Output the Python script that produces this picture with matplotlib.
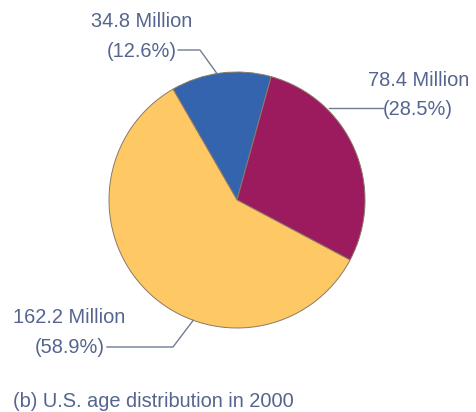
import numpy as np
import matplotlib
matplotlib.use("Agg")
import matplotlib.pyplot as plt

plt.rcParams['font.family'] = ['Liberation Sans', 'DejaVu Sans']

# age groups (under 18 / 18-64 / 65+ mixed as in the figure)
values = [34.8, 78.4, 162.2]
counts = ["34.8 Million", "78.4 Million", "162.2 Million"]
percents = ["(12.6%)", "(28.5%)", "(58.9%)"]
colors = ["#3464ad", "#9c1b5e", "#fec865"]
caption = "(b) U.S. age distribution in 2000"

W, H = 476, 412
text_col = "#55658f"
line_col = "#6f7c94"

fig = plt.figure(figsize=(W / 100, H / 100), dpi=100)
ax = fig.add_axes([0, 0, 1, 1])

cx, cy, r = 237, H - 200, 128
wedges, _ = ax.pie(values, colors=colors, startangle=120, counterclock=False,
                   center=(cx, cy), radius=r, frame=True,
                   wedgeprops=dict(edgecolor="#8a7a66", linewidth=0.7))
ax.set_xlim(0, W)
ax.set_ylim(0, H)
ax.axis('off')

fs = 14.4
# label layout: (count xy, percent xy, elbow point or None, angle where the leader hits the pie)
label_pos = [
    ((91, 27), (107, 57), (200, 50), 99),
    ((368, 86), (383, 115), None, 44),
    ((13, 323), (35, 353), (173, 347), 250),
]
leader_y = [50, 108, 347]
leader_x0 = [178, 383, 107]

for i, (cpos, ppos, elbow, ang) in enumerate(label_pos):
    ax.text(cpos[0], H - cpos[1], counts[i], fontsize=fs, color=text_col,
            ha='left', va='baseline')
    ax.text(ppos[0], H - ppos[1], percents[i], fontsize=fs, color=text_col,
            ha='left', va='baseline')
    ex = cx + r * np.cos(np.radians(ang))
    ey = cy + r * np.sin(np.radians(ang))
    xs = [leader_x0[i]]
    ys = [H - leader_y[i]]
    if elbow is not None:
        xs.append(elbow[0])
        ys.append(H - elbow[1])
    else:
        ey = H - leader_y[i]
    xs.append(ex)
    ys.append(ey)
    ax.plot(xs, ys, color=line_col, lw=1.0)

ax.text(13, H - 407, caption, fontsize=fs, color=text_col, ha='left', va='baseline')

fig.savefig("out.png", dpi=100)
